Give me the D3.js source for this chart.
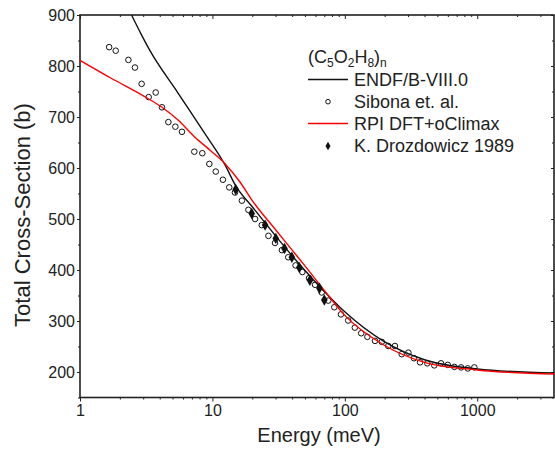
<!DOCTYPE html>
<html><head><meta charset="utf-8">
<script src="https://cdn.jsdelivr.net/npm/d3@7"></script>
<style>
html,body{margin:0;padding:0;background:#fff;}
text{font-family:"Liberation Sans",Arial,sans-serif;fill:#222;}
</style></head>
<body>
<svg id="chart" width="555" height="449"></svg>
<script>
// ---- data ----
const endfE = [2.45, 2.9, 3.36, 5.5, 8.75, 12.4, 15, 20, 30, 40, 50, 70, 100, 200, 400, 1000, 3800];
const endfV = [900, 862, 831, 747, 668, 607, 565, 524, 467, 428, 399, 358, 318, 259, 224, 206, 198];

const rpiE = [1, 1.72, 3.08, 4.11, 5.5, 7.35, 9.8, 12.4, 16.2, 20, 30, 40, 50, 70, 100, 200, 400, 1000, 3800];
const rpiV = [811, 776, 740, 720, 694, 661, 633, 609, 572, 536, 479, 439, 408, 360, 311, 252, 219, 204, 196];

const sibonaE = [1.66, 1.86, 2.32, 2.60, 2.92, 3.30, 3.73, 4.16, 4.65, 5.25, 5.89, 7.3, 8.39, 9.48, 10.6, 12.0, 13.4, 14.8, 16.7, 18.7, 21.0, 23.6, 26.5, 29.7, 33.5, 37.4, 42.5, 47.8, 53.7, 59.6, 66.9, 75.0, 83.3, 93.5, 106, 119, 133, 148, 169, 190, 213, 239, 269, 302, 333, 370, 420, 474, 533, 599, 672, 755, 848, 951];
const sibonaV = [837, 830, 812, 797, 765, 739, 748, 719, 690, 681, 671, 632, 629, 608, 593, 577, 562, 552, 536, 518, 500, 488, 467, 453, 439, 425, 409, 396, 384, 371, 356, 340, 327, 313, 301, 287, 276, 269, 261, 259, 251, 251, 235, 238, 227, 219, 217, 213, 217, 214, 210, 209, 207, 209];

const drozE = [15.0, 19.8, 25.0, 30.1, 35.0, 39.8, 45.3, 54.5, 64.3, 70.0];
const drozV = [558, 511, 488, 462, 442, 425, 405, 380, 364, 341];

const xTicks = [1, 10, 100, 1000];
const yTicks = [200, 300, 400, 500, 600, 700, 800, 900];
const legendLabels = ["ENDF/B-VIII.0", "Sibona et. al.", "RPI DFT+oClimax", "K. Drozdowicz 1989"];

// ---- layout ----
const svg = d3.select("#chart");
const L = 80, R = 554, T = 15, B = 397.5;
const x = d3.scaleLog().domain([1, 3800]).range([L, R]);
const y = d3.scaleLinear().domain([150, 900]).range([B, T]);
const axisColor = "#222";

svg.append("defs").append("clipPath").attr("id", "clip")
  .append("rect").attr("x", L).attr("y", T).attr("width", R - L).attr("height", B - T);

// minor ticks
const xMinor = [];
for (let d = 1; d < 10000; d *= 10) for (let k = 2; k <= 9; k++) { if (d * k <= 3800) xMinor.push(d * k); }
const yMinor = d3.range(150, 901, 50).filter(v => v % 100 !== 0);

function styleAxis(g) {
  g.selectAll(".domain").remove();
  g.selectAll("line").attr("stroke", axisColor).attr("stroke-width", 1);
  g.selectAll("text").style("font-size", "16px").attr("fill", axisColor);
}

// bottom
svg.append("g").attr("transform", `translate(0,${B})`)
  .call(d3.axisBottom(x).tickValues(xTicks).tickFormat(d3.format("d")).tickSize(4).tickPadding(3)).call(styleAxis);
svg.append("g").attr("transform", `translate(0,${B})`)
  .call(d3.axisBottom(x).tickValues(xMinor).tickFormat("").tickSize(2)).call(styleAxis);
// top (inward)
svg.append("g").attr("transform", `translate(0,${T})`)
  .call(d3.axisBottom(x).tickValues(xTicks).tickFormat("").tickSize(4)).call(styleAxis);
svg.append("g").attr("transform", `translate(0,${T})`)
  .call(d3.axisBottom(x).tickValues(xMinor).tickFormat("").tickSize(2)).call(styleAxis);
// left
svg.append("g").attr("transform", `translate(${L},0)`)
  .call(d3.axisLeft(y).tickValues(yTicks).tickSize(3).tickPadding(2)).call(styleAxis);
svg.append("g").attr("transform", `translate(${L},0)`)
  .call(d3.axisLeft(y).tickValues(yMinor).tickFormat("").tickSize(2)).call(styleAxis);
// right (inward)
svg.append("g").attr("transform", `translate(${R},0)`)
  .call(d3.axisLeft(y).tickValues(yTicks).tickFormat("").tickSize(3)).call(styleAxis);
svg.append("g").attr("transform", `translate(${R},0)`)
  .call(d3.axisLeft(y).tickValues(yMinor).tickFormat("").tickSize(2)).call(styleAxis);

// frame
svg.append("rect").attr("x", L).attr("y", T).attr("width", R - L).attr("height", B - T)
  .attr("fill", "none").attr("stroke", axisColor).attr("stroke-width", 1.6);

// titles
svg.append("text").attr("x", (L + R) / 2 + 2).attr("y", 442).attr("text-anchor", "middle")
  .style("font-size", "20px").text("Energy (meV)");
svg.append("text").attr("transform", `translate(30,215) rotate(-90)`).attr("text-anchor", "middle")
  .style("font-size", "22px").text("Total Cross-Section (b)");

// data
const plot = svg.append("g").attr("clip-path", "url(#clip)");
const line = d3.line().x(d => x(d[0])).y(d => y(d[1])).curve(d3.curveMonotoneX);
const endf = endfE.map((e, i) => [e, endfV[i]]);
const rpi = rpiE.map((e, i) => [e, rpiV[i]]);
const sib = sibonaE.map((e, i) => [e, sibonaV[i]]);
const droz = drozE.map((e, i) => [e, drozV[i]]);

plot.selectAll("circle.sib").data(sib).enter().append("circle")
  .attr("cx", d => x(d[0])).attr("cy", d => y(d[1])).attr("r", 2.8)
  .attr("fill", "none").attr("stroke", "#111").attr("stroke-width", 1);
plot.append("path").datum(endf).attr("d", line).attr("fill", "none").attr("stroke", "#111").attr("stroke-width", 1.4);
plot.append("path").datum(rpi).attr("d", line).attr("fill", "none").attr("stroke", "#ff0000").attr("stroke-width", 1.4);
const diamond = d3.symbol().type(d3.symbolDiamond).size(38);
plot.selectAll("path.droz").data(droz).enter().append("path")
  .attr("d", diamond).attr("transform", d => `translate(${x(d[0])},${y(d[1])})`).attr("fill", "#111");

// legend
const lg = svg.append("g");
const t0 = lg.append("text").attr("x", 308).attr("y", 63).style("font-size", "18px");
t0.append("tspan").text("(C");
t0.append("tspan").attr("dy", 4).style("font-size", "12px").text("5");
t0.append("tspan").attr("dy", -4).text("O");
t0.append("tspan").attr("dy", 4).style("font-size", "12px").text("2");
t0.append("tspan").attr("dy", -4).text("H");
t0.append("tspan").attr("dy", 4).style("font-size", "12px").text("8");
t0.append("tspan").attr("dy", -4).text(")");
t0.append("tspan").attr("dy", 4).style("font-size", "12px").text("n");

const rowY = [79.5, 101.7, 123.5, 146];
legendLabels.forEach((lab, i) => {
  lg.append("text").attr("x", 354).attr("y", rowY[i] + 6.4).style("font-size", "18px").text(lab);
});
lg.append("line").attr("x1", 308).attr("x2", 348).attr("y1", rowY[0]).attr("y2", rowY[0]).attr("stroke", "#111").attr("stroke-width", 1.4);
lg.append("circle").attr("cx", 328).attr("cy", rowY[1]).attr("r", 2.3).attr("fill", "none").attr("stroke", "#111").attr("stroke-width", 1);
lg.append("line").attr("x1", 308).attr("x2", 348).attr("y1", rowY[2]).attr("y2", rowY[2]).attr("stroke", "#ff0000").attr("stroke-width", 1.4);
lg.append("path").attr("d", d3.symbol().type(d3.symbolDiamond).size(22)).attr("transform", `translate(328,${rowY[3]})`).attr("fill", "#111");
</script>
</body></html>
